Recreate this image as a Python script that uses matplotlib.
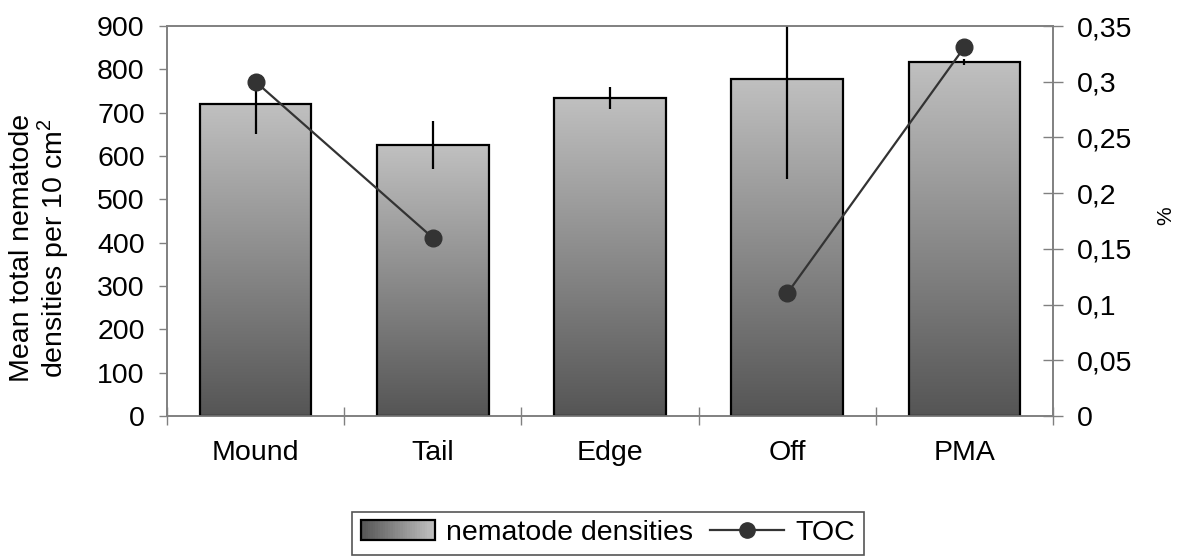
import numpy as np
import matplotlib
matplotlib.use("Agg")
import matplotlib.pyplot as plt
from matplotlib.patches import Rectangle
from matplotlib.legend_handler import HandlerBase
from matplotlib.ticker import FuncFormatter

plt.rcParams['font.family'] = ['Liberation Sans', 'DejaVu Sans']

# data
sites = ['Mound', 'Tail', 'Edge', 'Off', 'PMA']
densities = [720, 625, 734, 778, 817]
dens_err = [70, 55, 25, 230, 8]
toc = [0.30, 0.16, np.nan, 0.11, 0.331]

grey_top = np.array([192, 192, 192]) / 255
grey_bot = np.array([85, 85, 85]) / 255
spine_col = '#808080'
fs = 20.5

fig = plt.figure(figsize=(11.85, 5.6), dpi=100)
ax = fig.add_axes([0.1409, 0.2571, 0.7477, 0.6964])
x = np.arange(len(sites))

bars = ax.bar(x, densities, width=0.63, facecolor='none', edgecolor='black',
              linewidth=1.6, zorder=3)

# vertical gradient inside each bar
grad = np.linspace(0, 1, 256)[:, None, None]
grad_img = grey_bot + (grey_top - grey_bot) * grad
for b in bars:
    x0, w, h = b.get_x(), b.get_width(), b.get_height()
    im = ax.imshow(grad_img, extent=[x0, x0 + w, 0, h], origin='lower',
                   aspect='auto', zorder=2, interpolation='bilinear')
    im.set_clip_path(b)

ax.errorbar(x, densities, yerr=dens_err, fmt='none', ecolor='black',
            elinewidth=1.6, capsize=0, zorder=4)

ax.set_xlim(-0.5, len(sites) - 0.5)
ax.set_ylim(0, 900)
ax.set_yticks(range(0, 901, 100))
ax.set_xticks(np.arange(-0.5, len(sites), 1.0))
ax.set_xticklabels([])
ax.set_xticks(x, minor=True)
ax.set_xticklabels(sites, minor=True, fontsize=fs)
ax.tick_params(axis='x', which='major', direction='inout', length=13,
               color=spine_col, width=1)
ax.tick_params(axis='x', which='minor', length=0, pad=17)
ax.tick_params(axis='y', direction='out', length=6, color=spine_col,
               width=1, labelsize=fs, pad=10)
for s in ax.spines.values():
    s.set_color(spine_col)
    s.set_linewidth(1.2)

ax.set_ylabel('Mean total nematode\ndensities per 10 cm$^\\mathregular{2}$',
              fontsize=fs, linespacing=1.0)
ax.yaxis.set_label_coords(-0.108, 0.43)

ax2 = ax.twinx()
ax2.plot(x, toc, color='#333333', linewidth=1.6, marker='o', markersize=12,
         markerfacecolor='#333333', markeredgecolor='#333333', zorder=5)
ax2.set_ylim(0, 0.35)
ax2.set_yticks(np.arange(0, 0.351, 0.05))
ax2.yaxis.set_major_formatter(FuncFormatter(
    lambda v, p: ('%g' % round(v, 2)).replace('.', ',')))
ax2.tick_params(axis='y', direction='inout', length=14, color=spine_col,
                width=1, labelsize=fs, pad=10)
for s in ax2.spines.values():
    s.set_color(spine_col)
    s.set_linewidth(1.2)
fig.text(1166 / 1185, 1 - 216 / 560, '%', fontsize=15, rotation=90,
         ha='center', va='center')


class GradientHandler(HandlerBase):
    def create_artists(self, legend, orig_handle, xdescent, ydescent,
                       width, height, fontsize, trans):
        arts = []
        n = 30
        for i in range(n):
            c = grey_bot + (grey_top - grey_bot) * (i / (n - 1))
            arts.append(Rectangle((-xdescent + width * i / n, -ydescent),
                                  width / n + 0.5, height, facecolor=c,
                                  edgecolor='none', transform=trans))
        arts.append(Rectangle((-xdescent, -ydescent), width, height,
                              facecolor='none', edgecolor='black',
                              linewidth=1.6, transform=trans))
        return arts


bar_handle = Rectangle((0, 0), 1, 1)
line_handle, = ax2.plot([], [], color='#333333', linewidth=1.6, marker='o',
                        markersize=11)
leg = fig.legend([bar_handle, line_handle], ['nematode densities', 'TOC'],
                 handler_map={Rectangle: GradientHandler()},
                 loc='center', bbox_to_anchor=(0.513, 0.048), ncol=2,
                 fontsize=fs, frameon=True, fancybox=False, framealpha=1,
                 edgecolor='#555555', handlelength=2.6, handletextpad=0.4,
                 columnspacing=0.6, borderpad=0.3)
leg.get_frame().set_linewidth(1.2)

fig.savefig('out.png', dpi=100)
